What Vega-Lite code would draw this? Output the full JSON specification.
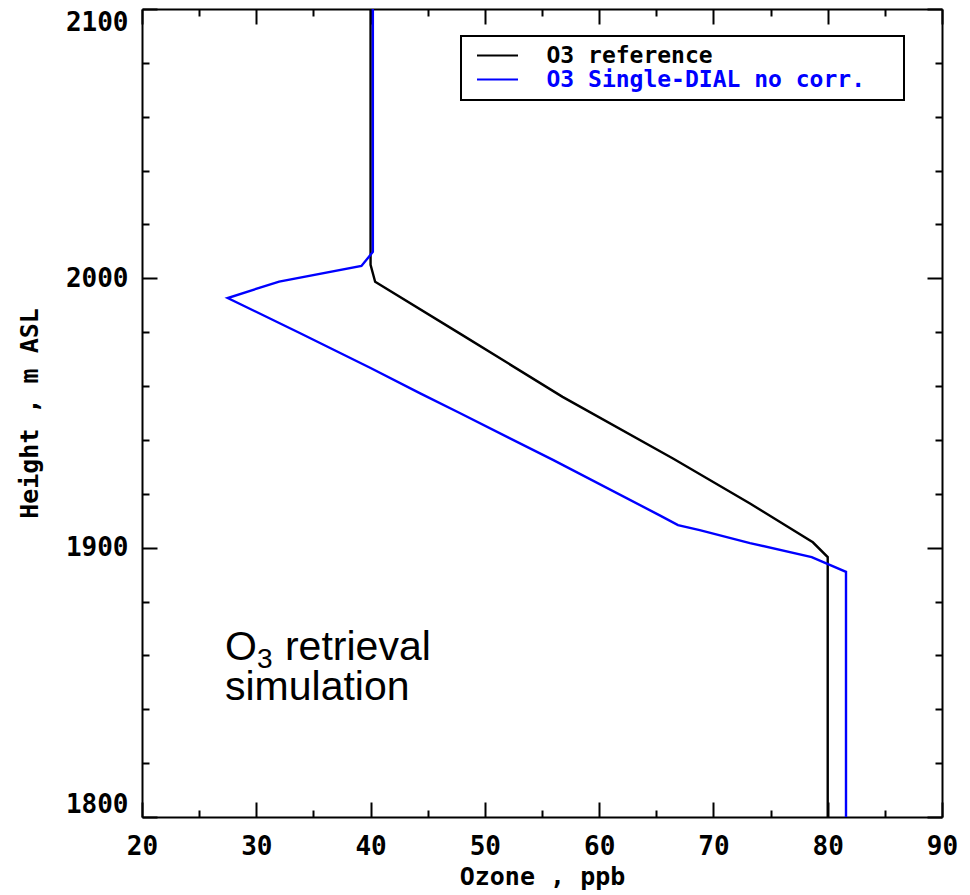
{
  "$schema": "https://vega.github.io/schema/vega-lite/v6.json",
  "width": 800,
  "height": 808,
  "autosize": {"type": "none"},
  "padding": {"left": 142, "top": 9, "right": 28, "bottom": 78},
  "background": "white",
  "config": {
    "view": {"stroke": null},
    "axis": {
      "domainColor": "black", "domainWidth": 2,
      "tickColor": "black", "tickWidth": 2,
      "labelFont": "DejaVu Sans Mono", "labelFontWeight": "bold", "labelFontSize": 26, "labelColor": "black",
      "titleFont": "DejaVu Sans Mono", "titleFontWeight": "bold", "titleFontSize": 25, "titleColor": "black",
      "grid": false, "labelOverlap": false, "labelBound": false
    }
  },
  "layer": [
    {
      "data": {"values": [
        {"series": "O3 reference", "ozone": 40.0, "height": 2100},
        {"series": "O3 reference", "ozone": 40.0, "height": 2005},
        {"series": "O3 reference", "ozone": 40.4, "height": 1998.7},
        {"series": "O3 reference", "ozone": 48.0, "height": 1979},
        {"series": "O3 reference", "ozone": 56.8, "height": 1956},
        {"series": "O3 reference", "ozone": 66.5, "height": 1933},
        {"series": "O3 reference", "ozone": 73.2, "height": 1916.4},
        {"series": "O3 reference", "ozone": 78.7, "height": 1902},
        {"series": "O3 reference", "ozone": 80.0, "height": 1896.5},
        {"series": "O3 reference", "ozone": 80.0, "height": 1800},
        {"series": "O3 Single-DIAL no corr.", "ozone": 40.2, "height": 2100},
        {"series": "O3 Single-DIAL no corr.", "ozone": 40.2, "height": 2009.8},
        {"series": "O3 Single-DIAL no corr.", "ozone": 39.2, "height": 2004.6},
        {"series": "O3 Single-DIAL no corr.", "ozone": 32.0, "height": 1998.8},
        {"series": "O3 Single-DIAL no corr.", "ozone": 27.5, "height": 1992.7},
        {"series": "O3 Single-DIAL no corr.", "ozone": 33.8, "height": 1979.7},
        {"series": "O3 Single-DIAL no corr.", "ozone": 40.0, "height": 1966.7},
        {"series": "O3 Single-DIAL no corr.", "ozone": 44.3, "height": 1957.4},
        {"series": "O3 Single-DIAL no corr.", "ozone": 47.8, "height": 1950},
        {"series": "O3 Single-DIAL no corr.", "ozone": 56.0, "height": 1932.5},
        {"series": "O3 Single-DIAL no corr.", "ozone": 65.3, "height": 1912},
        {"series": "O3 Single-DIAL no corr.", "ozone": 66.9, "height": 1908.4},
        {"series": "O3 Single-DIAL no corr.", "ozone": 68.8, "height": 1906.5},
        {"series": "O3 Single-DIAL no corr.", "ozone": 73.2, "height": 1901.7},
        {"series": "O3 Single-DIAL no corr.", "ozone": 78.6, "height": 1896.5},
        {"series": "O3 Single-DIAL no corr.", "ozone": 81.6, "height": 1891},
        {"series": "O3 Single-DIAL no corr.", "ozone": 81.6, "height": 1800}
      ]},
      "mark": {"type": "line", "strokeWidth": 2.4},
      "encoding": {
        "x": {
          "field": "ozone", "type": "quantitative",
          "scale": {"domain": [20, 90], "nice": false, "zero": false},
          "axis": {
            "orient": "bottom", "title": "Ozone , ppb", "titlePadding": -3,
            "tickValues": [20, 25, 30, 35, 40, 45, 50, 55, 60, 65, 70, 75, 80, 85, 90],
            "labelExpr": "datum.value % 10 === 0 ? datum.label : ''",
            "labelPadding": 31, "labelFlush": false,
            "tickSize": {"condition": {"test": "datum.value % 10 === 0", "value": -15}, "value": -7}
          }
        },
        "y": {
          "field": "height", "type": "quantitative",
          "scale": {"domain": [1800, 2100], "nice": false, "zero": false},
          "axis": {
            "orient": "left", "title": "Height , m ASL", "titlePadding": 23, "format": "d",
            "tickValues": [1800, 1825, 1850, 1875, 1900, 1925, 1950, 1975, 2000, 2025, 2050, 2075, 2100],
            "labelExpr": "datum.value % 50 === 0 ? datum.label : ''",
            "labelPadding": 29, "labelFlush": true,
            "tickSize": {"condition": {"test": "datum.value % 50 === 0", "value": -15}, "value": -7}
          }
        },
        "color": {
          "field": "series", "type": "nominal",
          "scale": {"domain": ["O3 reference", "O3 Single-DIAL no corr."], "range": ["#000000", "#0000ff"]},
          "legend": {
            "orient": "none", "legendX": 319, "legendY": 27,
            "title": " ", "titleOrient": "right", "titlePadding": 31, "titleFontSize": 2,
            "strokeColor": "black", "fillColor": "white", "padding": 8,
            "symbolType": "M-4.1,0H4.1", "symbolSize": 100, "symbolStrokeWidth": 2, "symbolOffset": 17,
            "labelOffset": 37.5, "labelFont": "DejaVu Sans Mono", "labelFontWeight": "bold",
            "labelFontSize": 23, "labelLimit": 600, "rowPadding": 0,
            "encode": {
              "legend": {"update": {"strokeWidth": {"value": 2}}},
              "labels": {"update": {"fill": {"signal": "datum.value === 'O3 reference' ? '#000000' : '#0000ff'"}}}
            }
          }
        },
        "order": {"value": null}
      }
    },
    {
      "data": {"values": [
        {"x": 27.26, "y": 1858.45, "t": "O"},
        {"x": 27.26, "y": 1843.4, "t": "simulation"}
      ]},
      "mark": {"type": "text", "font": "Liberation Sans", "fontSize": 41, "align": "left", "baseline": "alphabetic", "color": "black"},
      "encoding": {
        "x": {
          "field": "x", "type": "quantitative",
          "axis": {
            "orient": "top", "title": null, "labels": false,
            "tickValues": [20, 25, 30, 35, 40, 45, 50, 55, 60, 65, 70, 75, 80, 85, 90],
            "tickSize": {"condition": {"test": "datum.value % 10 === 0", "value": -15}, "value": -7}
          }
        },
        "y": {
          "field": "y", "type": "quantitative",
          "axis": {
            "orient": "right", "title": null, "labels": false,
            "tickValues": [1800, 1825, 1850, 1875, 1900, 1925, 1950, 1975, 2000, 2025, 2050, 2075, 2100],
            "tickSize": {"condition": {"test": "datum.value % 50 === 0", "value": -15}, "value": -7}
          }
        },
        "text": {"field": "t"}
      }
    },
    {
      "data": {"values": [{"x": 27.26, "y": 1858.45, "t": "3"}]},
      "mark": {"type": "text", "font": "Liberation Sans", "fontSize": 28, "align": "left", "baseline": "alphabetic", "color": "black", "dx": 32, "dy": 8},
      "encoding": {
        "x": {"field": "x", "type": "quantitative", "axis": null},
        "y": {"field": "y", "type": "quantitative", "axis": null},
        "text": {"field": "t"}
      }
    },
    {
      "data": {"values": [{"x": 27.26, "y": 1858.45, "t": "retrieval"}]},
      "mark": {"type": "text", "font": "Liberation Sans", "fontSize": 41, "align": "left", "baseline": "alphabetic", "color": "black", "dx": 60},
      "encoding": {
        "x": {"field": "x", "type": "quantitative", "axis": null},
        "y": {"field": "y", "type": "quantitative", "axis": null},
        "text": {"field": "t"}
      }
    }
  ],
  "resolve": {"axis": {"x": "independent", "y": "independent"}}
}
